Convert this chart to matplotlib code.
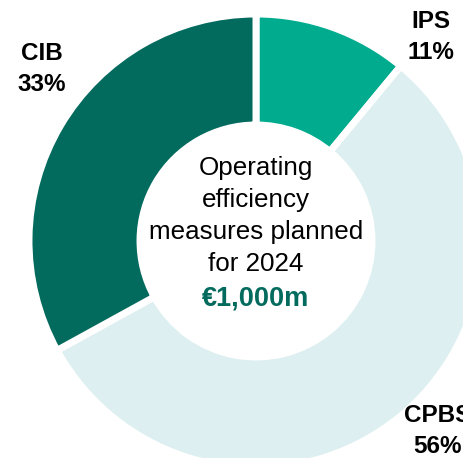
import matplotlib.pyplot as plt

segments = ['IPS', 'CPBS', 'CIB']
shares = [11, 56, 33]
colors = ['#00ab8e', '#ddeff0', '#036b5e']
total_label = '€1,000m'
center_lines = ['Operating', 'efficiency', 'measures planned', 'for 2024']

plt.rcParams['font.family'] = ['Liberation Sans', 'DejaVu Sans']

W, H = 464, 458
fig = plt.figure(figsize=(W / 100, H / 100), dpi=100)
ax = fig.add_axes([0, 0, 1, 1])

cx, cy = 256, H - 241
ax.pie(shares, colors=colors, center=(cx, cy), radius=227, startangle=90,
       counterclock=False, frame=True,
       wedgeprops=dict(width=111, edgecolor='white', linewidth=5))

ax.set_xlim(0, W)
ax.set_ylim(0, H)
ax.set_aspect('equal')
ax.axis('off')

# segment labels (positions in pixels from the top-left)
label_pos = {'IPS': (431, 21), 'CPBS': (438, 416), 'CIB': (42, 53)}
for name, val in zip(segments, shares):
    x, y = label_pos[name]
    ax.text(x, H - y, name, ha='center', va='center', fontsize=17.5,
            fontweight='bold', color='black')
    ax.text(x, H - y - 31, f'{val}%', ha='center', va='center',
            fontsize=17.5, fontweight='bold', color='black')

# centre text
for i, line in enumerate(center_lines):
    ax.text(cx, H - (168 + 32 * i), line, ha='center', va='center',
            fontsize=18.7, color='black')
ax.text(cx, H - 299, total_label, ha='center', va='center', fontsize=19.5,
        fontweight='bold', color='#036b5e')

fig.savefig('out.png', dpi=100)
